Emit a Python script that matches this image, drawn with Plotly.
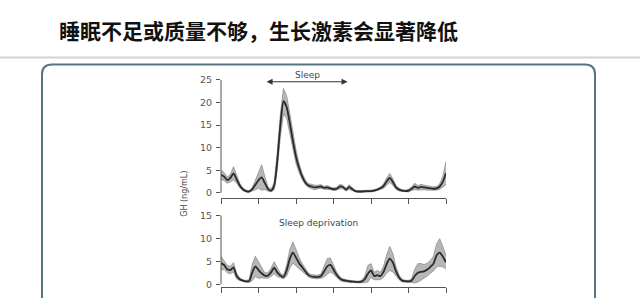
import numpy as np
import plotly.graph_objects as go

# ---- data (20-min samples over 24 h) ----
hours = [round(i / 3, 4) for i in range(73)]

gh_sleep = [4.0, 3.6, 2.8, 3.3, 4.3, 3.0, 1.6, 0.8, 0.4, 0.3, 0.8, 1.8, 2.8, 3.4, 2.2, 0.9, 0.5, 1.5,
            7.0, 15.0, 20.3, 19.0, 15.5, 11.5, 8.0, 5.5, 3.6, 2.3, 1.6, 1.4, 1.2, 1.3, 1.4, 1.1, 1.2, 1.0,
            0.8, 0.9, 1.4, 1.3, 0.7, 1.3, 0.8, 0.4, 0.3, 0.3, 0.35, 0.4, 0.4, 0.5, 0.7, 1.0, 1.5, 2.5,
            3.3, 2.4, 1.2, 0.7, 0.5, 0.4, 0.5, 0.9, 1.4, 1.1, 1.3, 1.2, 1.1, 1.0, 0.9, 1.0, 1.4, 2.5, 4.4]
sem_sleep = [1.0, 0.9, 0.7, 0.8, 1.5, 0.8, 0.5, 0.3, 0.2, 0.2, 0.4, 1.0, 1.8, 2.8, 1.5, 0.5, 0.3, 0.8,
             2.0, 2.5, 2.8, 2.5, 2.2, 1.8, 1.5, 1.0, 0.7, 0.5, 0.4, 0.5, 0.5, 0.4, 0.4, 0.3, 0.4, 0.3,
             0.3, 0.3, 0.5, 0.4, 0.3, 0.5, 0.3, 0.2, 0.2, 0.2, 0.2, 0.2, 0.2, 0.2, 0.2, 0.3, 0.5, 0.8,
             1.0, 0.7, 0.4, 0.3, 0.2, 0.2, 0.3, 0.4, 0.7, 0.5, 0.6, 0.5, 0.5, 0.4, 0.4, 0.4, 0.6, 1.2, 2.6]

gh_depr = [4.6, 4.2, 3.3, 3.1, 3.7, 1.8, 1.1, 0.8, 0.65, 0.7, 2.6, 3.9, 3.1, 2.4, 1.9, 1.9, 2.6, 3.6,
           2.6, 1.9, 1.6, 3.0, 5.5, 6.9, 5.8, 4.6, 3.7, 2.8, 2.0, 1.7, 1.6, 1.6, 1.8, 2.8, 3.9, 4.2,
           3.2, 2.1, 1.3, 0.9, 0.8, 0.65, 0.6, 0.55, 0.5, 0.6, 1.1, 2.3, 3.0, 1.8, 2.0, 1.8, 2.7, 4.4,
           5.6, 4.7, 2.8, 1.5, 0.8, 0.7, 0.65, 0.8, 1.8, 2.5, 2.7, 2.8, 3.2, 3.8, 4.5, 6.3, 6.9, 6.0, 4.8]
sem_depr = [1.5, 1.0, 0.8, 0.8, 1.0, 0.6, 0.3, 0.2, 0.2, 0.3, 1.8, 2.2, 1.8, 1.0, 0.6, 0.6, 0.9, 1.3,
            0.9, 0.5, 0.4, 1.2, 2.0, 2.3, 1.8, 1.2, 0.8, 0.6, 0.4, 0.4, 0.4, 0.4, 0.5, 1.2, 1.7, 1.5,
            1.0, 0.6, 0.4, 0.3, 0.2, 0.2, 0.2, 0.2, 0.2, 0.3, 0.7, 1.8, 1.5, 0.8, 1.0, 0.8, 1.2, 2.0,
            2.6, 2.0, 1.0, 0.5, 0.3, 0.2, 0.2, 0.4, 1.5, 2.0, 1.8, 1.5, 1.4, 1.4, 1.6, 2.5, 3.0, 2.2, 1.5]

x_ticks = [0, 4, 8, 12, 16, 20, 24]
y_ticks_top = [0, 5, 10, 15, 20, 25]
y_ticks_bot = [0, 5, 10, 15]

title_text = "睡眠不足或质量不够，生长激素会显著降低"
ylabel = "GH (ng/mL)"
label_sleep = "Sleep"
label_depr = "Sleep deprivation"

W, H = 640, 298
fig = go.Figure()

band_col = "rgba(165,165,165,0.8)"
edge_col = "rgba(125,125,125,0.9)"
line_col = "#2a2a2a"


def add_panel(mean, sem, xa, ya):
    m = np.array(mean)
    s = np.array(sem)
    fig.add_trace(go.Scatter(x=hours, y=m + s, xaxis=xa, yaxis=ya, mode="lines",
                             line=dict(width=0.7, color=edge_col), showlegend=False,
                             hoverinfo="skip"))
    fig.add_trace(go.Scatter(x=hours, y=np.maximum(m - s, 0), xaxis=xa, yaxis=ya, mode="lines",
                             line=dict(width=0.7, color=edge_col), fill="tonexty",
                             fillcolor=band_col, showlegend=False, hoverinfo="skip"))
    fig.add_trace(go.Scatter(x=hours, y=m, xaxis=xa, yaxis=ya, mode="lines",
                             line=dict(width=1.8, color=line_col, shape="spline", smoothing=0.6),
                             showlegend=False))


add_panel(gh_sleep, sem_sleep, "x", "y")
add_panel(gh_depr, sem_depr, "x2", "y2")

tick_font = dict(family="DejaVu Sans, sans-serif", size=9.5, color="#555")
xdom = [221 / W, 446 / W]
axis_col = "#555"

common_x = dict(range=[0, 24], domain=xdom, showgrid=False, zeroline=False, showline=True,
                linecolor=axis_col, linewidth=1, ticks="outside", ticklen=5, tickcolor=axis_col,
                tickvals=x_ticks, showticklabels=False)
fig.update_layout(
    width=W, height=H, margin=dict(l=0, r=0, t=0, b=0),
    paper_bgcolor="white", plot_bgcolor="rgba(0,0,0,0)",
    xaxis=dict(**common_x, anchor="y"),
    xaxis2=dict(**common_x, anchor="y2"),
    yaxis=dict(range=[-1.08, 25], domain=[1 - 197 / H, 1 - 76 / H], anchor="x", showgrid=False,
               zeroline=False, showline=False, ticks="outside", ticklen=4, tickcolor=axis_col,
               tickvals=y_ticks_top, tickfont=tick_font, ticklabelstandoff=2),
    yaxis2=dict(range=[-0.63, 15], domain=[1 - 289 / H, 1 - 215 / H], anchor="x2", showgrid=False,
                zeroline=False, showline=False, ticks="outside", ticklen=4, tickcolor=axis_col,
                tickvals=y_ticks_bot, tickfont=tick_font, ticklabelstandoff=2),
)

# offset y-axis spines
fig.add_shape(type="line", xref="x domain", yref="y", x0=0, x1=0, y0=0, y1=25,
              line=dict(color=axis_col, width=1))
fig.add_shape(type="line", xref="x2 domain", yref="y2", x0=0, x1=0, y0=0, y1=15,
              line=dict(color=axis_col, width=1))

# header separator line
fig.add_shape(type="line", xref="paper", yref="paper", x0=0, x1=1, y0=1 - 53 / H, y1=1 - 53 / H,
              line=dict(color="#d4d4d4", width=2), layer="below")

# rounded frame
x0, x1 = 42 / W, 595 / W
yt, yb = 1 - 60 / H, -0.2
rx, ry = 10 / W, 10 / H
path = (f"M {x0},{yb} L {x0},{yt - ry} Q {x0},{yt} {x0 + rx},{yt} "
        f"L {x1 - rx},{yt} Q {x1},{yt} {x1},{yt - ry} L {x1},{yb}")
fig.add_shape(type="path", xref="paper", yref="paper", path=path,
              line=dict(color="#557580", width=2), layer="below")

# title
fig.add_annotation(xref="paper", yref="paper", x=57 / W, y=1 - 25 / H, xanchor="left",
                   yanchor="middle", text="<b>" + title_text + "</b>", showarrow=False,
                   font=dict(family="Noto Sans CJK SC", size=21, color="#111"))

# Sleep arrow (double headed)
fig.add_annotation(xref="x", yref="y", axref="x", ayref="y", x=13.5, y=24.6, ax=4.7, ay=24.6,
                   text="", showarrow=True, arrowhead=2, startarrowhead=2, arrowside="end+start",
                   arrowsize=1, arrowwidth=1.2, arrowcolor="#333")
fig.add_annotation(xref="paper", yref="paper", x=307 / W, y=1 - 71 / H, xanchor="center",
                   yanchor="middle", text=label_sleep, showarrow=False,
                   font=dict(family="DejaVu Sans, sans-serif", size=9, color="#444"))
fig.add_annotation(xref="paper", yref="paper", x=318 / W, y=1 - 223 / H, xanchor="center",
                   yanchor="middle", text=label_depr, showarrow=False,
                   font=dict(family="DejaVu Sans, sans-serif", size=9, color="#444"))

# y axis title
fig.add_annotation(xref="paper", yref="paper", x=185 / W, y=1 - 193 / H, xanchor="center",
                   yanchor="middle", text=ylabel, textangle=-90, showarrow=False,
                   font=dict(family="DejaVu Sans, sans-serif", size=8, color="#444"))

fig.write_html("out.html")
